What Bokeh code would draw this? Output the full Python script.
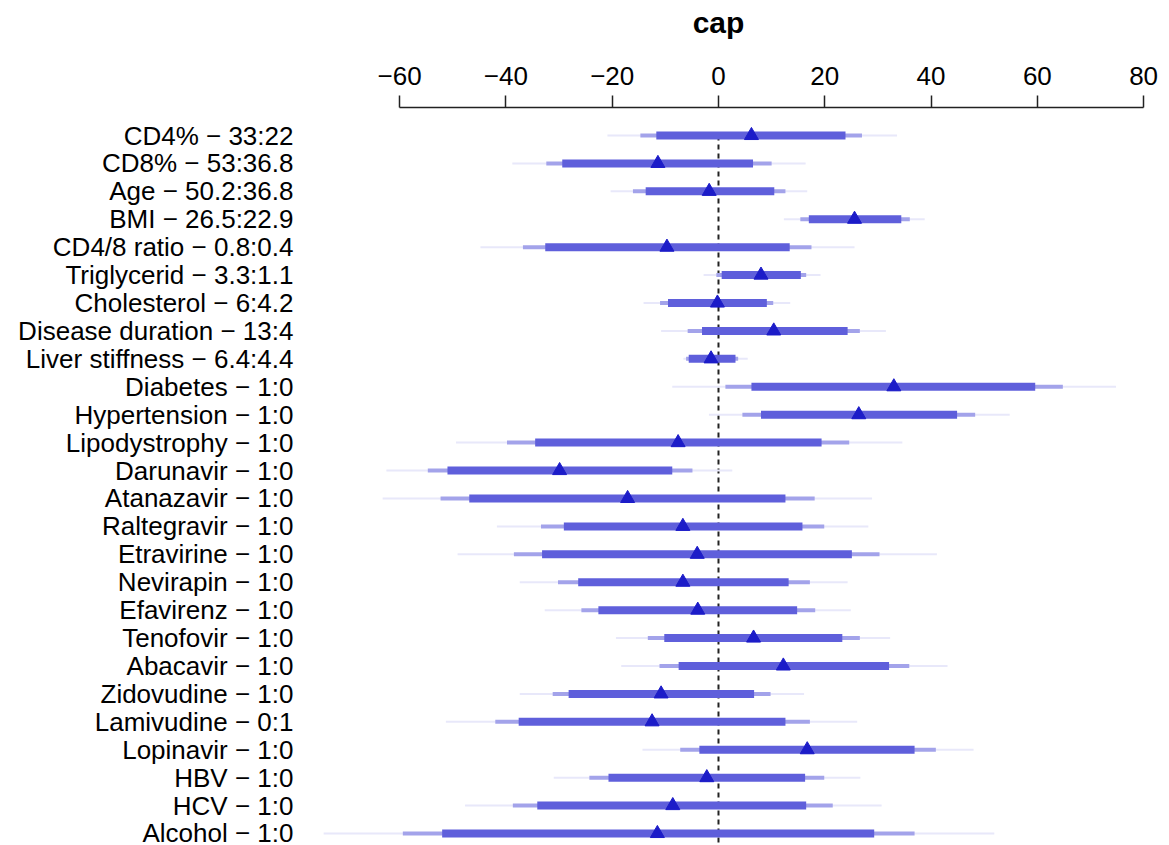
from bokeh.plotting import figure
from bokeh.layouts import column
from bokeh.models import Range1d, LinearAxis, FixedTicker, ColumnDataSource
from bokeh.core.properties import value
from bokeh.embed import file_html
from bokeh.resources import INLINE

title_text = "cap"
labels = ["CD4% \u2212 33:22", "CD8% \u2212 53:36.8", "Age \u2212 50.2:36.8", "BMI \u2212 26.5:22.9",
          "CD4/8 ratio \u2212 0.8:0.4", "Triglycerid \u2212 3.3:1.1", "Cholesterol \u2212 6:4.2",
          "Disease duration \u2212 13:4", "Liver stiffness \u2212 6.4:4.4", "Diabetes \u2212 1:0",
          "Hypertension \u2212 1:0", "Lipodystrophy \u2212 1:0", "Darunavir \u2212 1:0",
          "Atanazavir \u2212 1:0", "Raltegravir \u2212 1:0", "Etravirine \u2212 1:0",
          "Nevirapin \u2212 1:0", "Efavirenz \u2212 1:0", "Tenofovir \u2212 1:0", "Abacavir \u2212 1:0",
          "Zidovudine \u2212 1:0", "Lamivudine \u2212 0:1", "Lopinavir \u2212 1:0", "HBV \u2212 1:0",
          "HCV \u2212 1:0", "Alcohol \u2212 1:0"]
effect = [6.2, -11.4, -1.75, 25.6, -9.7, 8.0, -0.2, 10.4, -1.4, 33.0, 26.4, -7.6, -29.9,
          -17.1, -6.7, -4.0, -6.7, -3.9, 6.6, 12.2, -10.8, -12.5, 16.7, -2.2, -8.6, -11.5]
lo90 = [-11.7, -29.4, -13.7, 17.0, -32.6, 0.6, -9.5, -3.1, -5.6, 6.2, 8.0, -34.5, -51.0,
        -46.9, -29.1, -33.2, -26.4, -22.6, -10.2, -7.5, -28.2, -37.6, -3.6, -20.7, -34.1, -52.0]
hi90 = [23.9, 6.5, 10.5, 34.4, 13.4, 15.5, 9.1, 24.3, 3.2, 59.6, 44.9, 19.4, -8.7,
        12.6, 15.8, 25.1, 13.2, 14.8, 23.3, 32.1, 6.7, 12.6, 36.9, 16.3, 16.5, 29.3]
lo95 = [-14.7, -32.4, -16.1, 15.4, -36.8, -0.4, -11.0, -5.8, -6.1, 1.3, 4.5, -39.8, -54.7,
        -52.3, -33.4, -38.5, -30.2, -25.8, -13.3, -11.1, -31.2, -42.0, -7.2, -24.3, -38.7, -59.4]
hi95 = [27.0, 10.0, 12.6, 36.0, 17.5, 16.5, 10.3, 26.6, 3.7, 64.8, 48.3, 24.6, -4.9,
        18.1, 19.9, 30.3, 17.2, 18.2, 26.6, 35.9, 9.8, 17.2, 40.9, 19.9, 21.5, 36.9]
lo99 = [-20.9, -38.8, -20.3, 12.3, -44.8, -2.8, -14.1, -10.8, -6.6, -8.7, -1.8, -49.4, -62.5,
        -63.2, -41.7, -49.1, -37.4, -32.7, -19.3, -18.3, -37.4, -51.3, -14.3, -31.0, -47.7, -74.3]
hi99 = [33.6, 16.4, 16.7, 38.8, 25.6, 19.2, 13.5, 31.5, 5.5, 74.8, 54.8, 34.6, 2.6,
        28.9, 28.2, 41.1, 24.3, 24.9, 32.3, 43.1, 16.1, 26.1, 48.0, 26.7, 30.7, 51.9]
x_ticks = [-60, -40, -20, 0, 20, 40, 60, 80]

rows = list(range(1, len(labels) + 1))
src = ColumnDataSource(dict(y=rows, effect=effect, lo90=lo90, hi90=hi90, lo95=lo95,
                            hi95=hi95, lo99=lo99, hi99=hi99, label=labels,
                            lx=[-79.98] * len(labels)))

FONT = "Liberation Sans"
X_RANGE = (-135.11, 84.87)

# title strip (shares the x scale of the main plot)
tf = figure(width=1169, height=45, output_backend="svg", toolbar_location=None,
            title_location=None, x_range=Range1d(*X_RANGE), y_range=Range1d(0, 45),
            x_axis_type=None, y_axis_type=None,
            min_border_left=0, min_border_right=0, min_border_top=0, min_border_bottom=0)
tf.outline_line_color = None
tf.xgrid.visible = False
tf.ygrid.visible = False
tf.text(x=[0], y=[23], text=[title_text], text_align="center", text_baseline="middle",
        text_font=value(FONT), text_font_size="30px", text_font_style="bold",
        text_color="black")

p = figure(width=1169, height=800, output_backend="svg", toolbar_location=None,
           title_location=None,
           x_range=Range1d(*X_RANGE), y_range=Range1d(26.43, -0.003),
           x_axis_type=None, y_axis_type=None,
           min_border_left=0, min_border_right=0, min_border_top=62, min_border_bottom=0)
p.outline_line_color = None
p.xgrid.visible = False
p.ygrid.visible = False
p.background_fill_color = "white"
p.border_fill_color = "white"

# top axis
xa = LinearAxis(ticker=FixedTicker(ticks=x_ticks), bounds=(-60, 80))
xa.major_label_overrides = {t: (("\u2212" + str(-t)) if t < 0 else str(t)) for t in x_ticks}
xa.major_label_text_font = FONT
xa.major_label_text_font_size = "26px"
xa.major_label_text_color = "black"
xa.major_tick_out = 12
xa.major_tick_in = 0
xa.minor_tick_out = 0
xa.minor_tick_in = 0
xa.major_label_standoff = 11
xa.axis_line_color = "#222222"
xa.axis_line_width = 1.5
xa.major_tick_line_color = "#222222"
xa.major_tick_line_width = 1.5
p.add_layout(xa, "above")

# row labels
p.text(x="lx", y="y", text="label", source=src, text_align="right",
       text_baseline="middle", text_font=value(FONT), text_font_size="26px",
       text_color="black")

# reference line
p.segment(x0=[0], y0=[1.0], x1=[0], y1=[26.5], line_color="#222222", line_width=2,
          line_dash="5 4")

# interval bars
p.segment(x0="lo99", y0="y", x1="hi99", y1="y", source=src, line_color="#e8e8fa", line_width=2)
p.segment(x0="lo95", y0="y", x1="hi95", y1="y", source=src, line_color="#a3a3ea", line_width=4)
p.segment(x0="lo90", y0="y", x1="hi90", y1="y", source=src, line_color="#5f5fdb", line_width=8)

p.scatter(x="effect", y="y", source=src, marker="triangle", size=14,
          fill_color="#1c1cc8", line_color="#1c1cc8")

layout = column(tf, p, spacing=0)
open("out.html", "w").write(file_html(layout, INLINE))
